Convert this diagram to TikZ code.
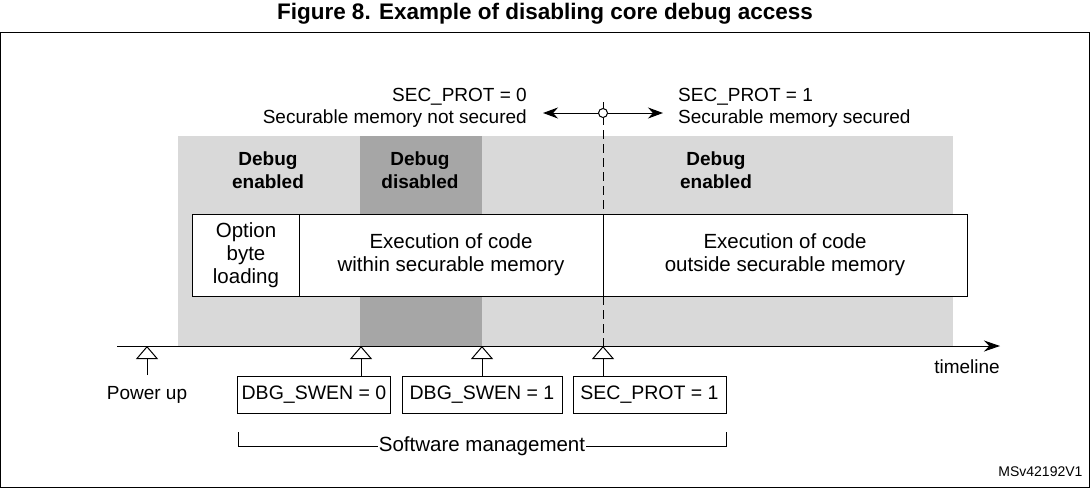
\documentclass[tikz,border=0pt]{standalone}
\usepackage{fontspec}
\setmainfont{Liberation Sans}
\usetikzlibrary{arrows.meta}
\begin{document}
\begin{tikzpicture}[x=1pt,y=-1pt,
  txt/.style={font=\fontsize{20.5}{23}\selectfont,align=center,inner sep=0},
  lab/.style={font=\fontsize{19}{21.5}\selectfont,align=center,inner sep=0},
  dbg/.style={font=\bfseries\fontsize{19}{23}\selectfont,align=center,inner sep=0},
  reg/.style={draw,line width=1pt,minimum height=37pt,inner sep=0,font=\fontsize{19.5}{22}\selectfont},
  trig/.style={-{Triangle[open,width=22pt,length=13pt]},line width=1pt}]
\useasboundingbox (0,0) rectangle (1090,488);
\node[font=\bfseries\fontsize{22.5}{26}\selectfont] (title) at (545,14) {Figure 8. Example of disabling core debug access};
\draw[line width=1pt] (0.5,32) rectangle (1089,487.5);
\fill[gray!30] (178,136) rectangle (953,346);
\fill[gray!70] (360,136) rectangle (482,346);
\node[dbg] (d1) at (268,170) {Debug\\enabled};
\node[dbg] (d2) at (420,170) {Debug\\disabled};
\node[dbg] (d3) at (716,170) {Debug\\enabled};
\draw[line width=1pt,fill=white] (192,214) rectangle (967,296);
\draw[line width=1pt] (299,214) -- (299,296);
\draw[line width=1pt] (603,214) -- (603,296);
\node[txt] (ob) at (246,255) {Option\\byte\\loading};
\node[txt] (ex1) at (451,255) {Execution of code\\within securable memory};
\node[txt] (ex2) at (785,255) {Execution of code\\outside securable memory};
\coordinate (c) at (603,113);
\draw[line width=1pt,dash pattern=on 9pt off 5pt] (603,102) -- (603,214);
\draw[line width=1pt,dash pattern=on 9pt off 5pt] (603,296) -- (603,346);
\draw[-{Stealth[length=15pt,width=11pt]},line width=1pt] (c) -- (543,113);
\draw[-{Stealth[length=15pt,width=11pt]},line width=1pt] (c) -- (663,113);
\draw[line width=1pt,fill=white] (c) circle (4.5pt);
\node[lab,anchor=east,align=right] (s0) at (527,108) {SEC\_PROT = 0\\Securable memory not secured};
\node[lab,anchor=west,align=left] (s1) at (678,108) {SEC\_PROT = 1\\Securable memory secured};
\coordinate (t0) at (117,346);
\coordinate (t1) at (1000,346);
\draw[-{Stealth[length=16pt,width=11pt]},line width=1pt] (t0) -- (t1);
\node[lab,anchor=north east] (tl) at (1000,360) {timeline};
\node[reg,minimum width=153pt] (b1) at (314,394.5) {DBG\_SWEN = 0};
\node[reg,minimum width=160pt] (b2) at (482,394.5) {DBG\_SWEN = 1};
\node[reg,minimum width=153pt] (b3) at (649.5,394.5) {SEC\_PROT = 1};
\coordinate (p) at (147,346);
\coordinate (pb) at (147,375);
\draw[trig] (pb) -- (p);
\node[lab] (pu) at (147,395) {Power up};
\draw[trig] (b1.north -| 361,0) -- (361,346);
\draw[trig] (b2.north) -- (b2.north |- t0);
\draw[trig] (b3.north -| 603,0) -- (603,346);
\node[lab,font=\fontsize{20.5}{23}\selectfont,fill=white,inner sep=1pt] (sm) at (482,446) {Software management};
\draw[line width=0.8pt] (238,432) -- (238,446) -- (sm.west);
\draw[line width=0.8pt] (726,432) -- (726,446) -- (sm.east);
\node[font=\fontsize{14}{16}\selectfont,anchor=east] (ms) at (1086,472) {MSv42192V1};
\end{tikzpicture}
\end{document}
